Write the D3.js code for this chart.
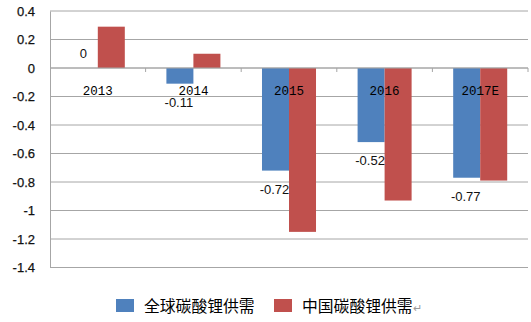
<!DOCTYPE html>
<html><head><meta charset="utf-8">
<script src="https://cdn.jsdelivr.net/npm/d3@7"></script>
<style>body{margin:0;background:#fff}svg{display:block}</style>
</head><body>
<script>
const categories = ["2013","2014","2015","2016","2017E"];
const globalSupply = [0, -0.11, -0.72, -0.52, -0.77];
const chinaSupply = [0.29, 0.10, -1.15, -0.93, -0.79];
const seriesNames = ["全球碳酸锂供需","中国碳酸锂供需"];
const yTicks = [0.4,0.2,0,-0.2,-0.4,-0.6,-0.8,-1,-1.2,-1.4];
const colors = ["#4F81BD","#C0504D"];

const W=531,H=322;
const svg=d3.select("body").append("svg").attr("width",W).attr("height",H);
const pL=50,pR=528,pT=11,pB=267.5;
const y=d3.scaleLinear().domain([-1.4,0.4]).range([pB,pT]);
const x=d3.scaleBand().domain(categories).range([pL,pR]).paddingInner(0.435).paddingOuter(0.2175);
const xc=d3.scaleBand().domain(categories).range([pL,pR]);
const fmt=d=>String(+d.toFixed(2));

// gridlines
svg.append("g").selectAll("line").data(yTicks).join("line")
 .attr("x1",pL).attr("x2",pR).attr("y1",d=>y(d)).attr("y2",d=>y(d))
 .attr("stroke","#A6A6A6").attr("stroke-width",1);
// y axis
const ya=svg.append("g").attr("transform",`translate(${pL},0)`)
 .call(d3.axisLeft(y).tickValues(yTicks).tickSize(0).tickPadding(15).tickFormat(fmt));
ya.select(".domain").attr("stroke","#A6A6A6");
ya.selectAll("text").attr("font-family","'Liberation Sans',Arial,sans-serif").attr("font-size","13px").attr("fill","#111")
 .attr("stroke","#111").attr("stroke-width",0.25);

// bars
const sub=d3.scaleBand().domain([0,1]).range([0,x.bandwidth()]);
[globalSupply,chinaSupply].forEach((vals,si)=>{
 svg.append("g").selectAll("rect").data(vals).join("rect")
  .attr("x",(d,i)=>x(categories[i])+sub(si))
  .attr("width",sub.bandwidth())
  .attr("y",d=>y(Math.max(0,d)))
  .attr("height",d=>Math.abs(y(d)-y(0)))
  .attr("fill",colors[si]);
});

// zero axis with ticks
svg.append("line").attr("x1",pL).attr("x2",pR).attr("y1",y(0)).attr("y2",y(0)).attr("stroke","#A6A6A6");
const bounds=categories.map(c=>xc(c)+xc.bandwidth());
svg.append("g").selectAll("line").data(bounds).join("line")
 .attr("x1",d=>d).attr("x2",d=>d).attr("y1",y(0)).attr("y2",y(0)+4).attr("stroke","#A6A6A6");

// category labels
svg.append("g").selectAll("text").data(categories).join("text")
 .attr("x",d=>xc(d)+xc.bandwidth()/2).attr("y",y(0)+27)
 .attr("text-anchor","middle")
 .attr("font-family","'Liberation Mono',monospace").attr("font-size","12.5px").attr("fill","#000")
 .text(d=>d);

// data labels for global series
svg.append("g").selectAll("text").data(globalSupply).join("text")
 .attr("x",(d,i)=>x(categories[i])+sub(0)+sub.bandwidth()/2-1)
 .attr("y",d=>d<0?y(d)+23:y(d)-10)
 .attr("text-anchor","middle")
 .attr("font-family","'Liberation Sans',Arial,sans-serif").attr("font-size","13px").attr("fill","#111")
 .text(fmt);

// legend
const lg=svg.append("g");
const lx=[116,274];
seriesNames.forEach((n,i)=>{
 lg.append("rect").attr("x",lx[i]).attr("y",299).attr("width",18).attr("height",13).attr("fill",colors[i]);
 const t=lg.append("text").attr("x",lx[i]+28).attr("y",312)
  .attr("font-family","'Noto Sans CJK SC',sans-serif").attr("font-size","15.8px").attr("fill","#000").text(n);
 if(i===1) t.append("tspan").attr("font-size","11px").attr("fill","#999").text("↵");
});
</script>
</body></html>
